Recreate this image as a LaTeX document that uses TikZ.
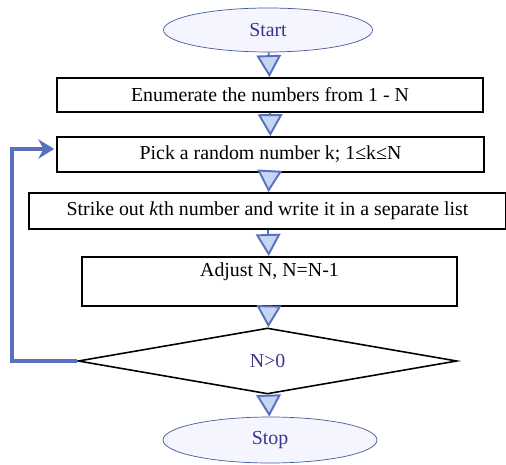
\documentclass[tikz,border=0pt]{standalone}
\usepackage{fontspec}
\setmainfont{Liberation Serif}
\usepackage{tikz}
\usetikzlibrary{
  shapes.geometric, % Shapes "ellipse", "diamond"
  arrows.meta,
  positioning,
}
\definecolor{myblue}{RGB}{88,112,192}
\definecolor{mytext}{RGB}{62,52,140}
\definecolor{myfill}{RGB}{196,214,240}
\tikzset{
  font=\fontsize{11.3}{13}\selectfont,
  semithick,
  my box/.style={
    draw,
    line width=1pt,
    inner sep=0mm,
    rectangle
  },
  my oval/.style={
    draw=myblue!80!black,
    fill=blue!4,
    ellipse,
    inner sep=0mm,
    text=mytext
  },
  my decision/.style={
    draw,
    line width=0.9pt,
    diamond,
    inner sep=0mm,
    text=mytext
  },
  % Down arrow between blocks
  my block arrow/.style={
    draw=myblue,
    line width=1.1pt,
    -{Triangle[width=14pt,length=12.5pt,fill=myfill]}
  },
  my loop arrow/.style={
    draw=myblue,
    line width=2pt,
    -{Stealth[width=11pt,length=9pt]}
  }
}

\begin{document}
\begin{tikzpicture}[x=0.02cm,y=-0.02cm]
\useasboundingbox (0,0) rectangle (506,465);
\node[my oval,minimum width=4.18cm,minimum height=0.88cm] (start) at (268,30) {Start};
\node[my box,minimum width=8.52cm,minimum height=0.68cm] (enum) at (270,95)
  {Enumerate the numbers from 1 - N};
\node[my box,minimum width=8.54cm,minimum height=0.70cm] (pick) at (270.5,154.5)
  {Pick a random number k; 1≤k≤N};
\node[my box,minimum width=9.54cm,minimum height=0.72cm] (strike) at (267.5,211)
  {Strike out \textit{k}th number and write it in a separate list};
\node[my box,minimum width=7.5cm,text height=0.4cm,text depth=0.58cm,anchor=north] (adjust)
  at (269.5,256) {Adjust N, N=N-1};
\node[my decision,minimum width=7.58cm,minimum height=1.32cm] (dec) at (267.5,361) {N>0};
\node[my oval,minimum width=4.28cm,minimum height=0.92cm] (stop) at (270,440) {Stop};

\draw[my block arrow] (start) -- (enum);
\draw[my block arrow] (enum) -- (pick);
\draw[my block arrow] (pick) -- (strike);
\draw[my block arrow] (strike) -- (adjust);
\draw[my block arrow] (adjust) -- (dec);
\draw[my block arrow] (dec) -- (stop);

\coordinate (back) at (12,361);
\draw[my loop arrow] (dec.west) -- (back) |- ([xshift=-0.04cm,yshift=0.11cm]pick.west);
\end{tikzpicture}
\end{document}
